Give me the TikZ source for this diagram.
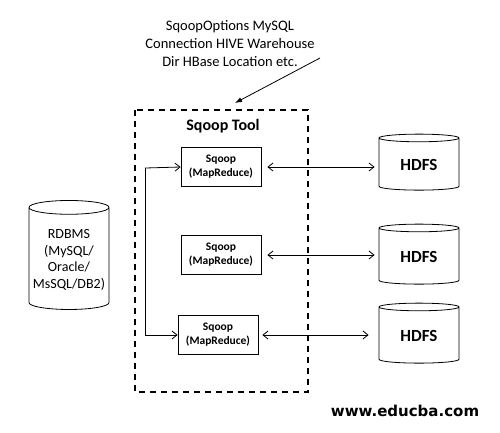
\documentclass[tikz,border=0pt]{standalone}
\usepackage{fontspec}
\setmainfont{Carlito}
\newfontfamily\webfont{DejaVu Sans}
\usetikzlibrary{shapes.geometric,arrows.meta}
\tikzset{
  db/.style={draw, line width=0.8pt, cylinder, shape border rotate=90, aspect=0.175,
    minimum width=80pt, minimum height=56pt,
    font=\bfseries\fontsize{17}{19}\selectfont},
  job/.style={draw, line width=0.8pt, minimum width=80pt, minimum height=39pt, align=center,
    inner sep=1pt, font=\bfseries\fontsize{11.5}{14}\selectfont},
  link/.style={line width=0.8pt, {Straight Barb[length=5pt,width=8pt]}-{Straight Barb[length=5pt,width=8pt]}},
}
\begin{document}
\begin{tikzpicture}[x=1pt,y=-1pt]
  \useasboundingbox (0,0) rectangle (500,432);
  \node[align=center, font=\fontsize{14.5}{18}\selectfont] (opts) at (230,44)
    {SqoopOptions MySQL\\Connection HIVE Warehouse\\Dir HBase Location etc.};
  \draw[dash pattern=on 6pt off 5pt, line width=1.5pt] (135,110) rectangle (308,392);
  \node[font=\bfseries\fontsize{16}{18}\selectfont] (tool) at (223,126) {Sqoop Tool};
  \coordinate (tooltop) at (235,103);
  \draw[line width=0.8pt, -{Latex[length=7pt,width=5pt]}] (320,58) -- (tooltop);
  \node[job] (job1) at (221,167) {Sqoop\\(MapReduce)};
  \node[job] (job2) at (221,255) {Sqoop\\(MapReduce)};
  \node[job] (job3) at (218,335) {Sqoop\\(MapReduce)};
  \node[db] (hdfs1) at (419,165) {HDFS};
  \node[db, minimum height=60pt] (hdfs2) at (419,257) {HDFS};
  \node[db, minimum height=60pt] (hdfs3) at (419,336) {HDFS};
  \node[db, minimum height=109pt, align=center, font=\fontsize{14}{16.5}\selectfont]
    (rdbms) at (69,260) {RDBMS\\(MySQL/\\Oracle/\\MsSQL/DB2)};
  \coordinate (split) at (145,168);
  \draw[line width=0.8pt, -{Straight Barb[length=5pt,width=8pt]}] (split) -- (job1.west);
  \draw[line width=0.8pt, -{Straight Barb[length=5pt,width=8pt]}] (split) |- (job3.west);
  \draw[link, shorten <=6pt, shorten >=4pt] (job1.east) -- (job1.east -| hdfs1.west);
  \draw[link, shorten <=6pt, shorten >=4pt] (job2.east) -- (job2.east -| hdfs2.west);
  \draw[link, shorten <=4pt, shorten >=10pt] (job3.east) -- (job3.east -| hdfs3.west);
  \node[font=\webfont\bfseries\fontsize{15}{17}\selectfont] (site) at (405,411) {www.educba.com};
\end{tikzpicture}
\end{document}
